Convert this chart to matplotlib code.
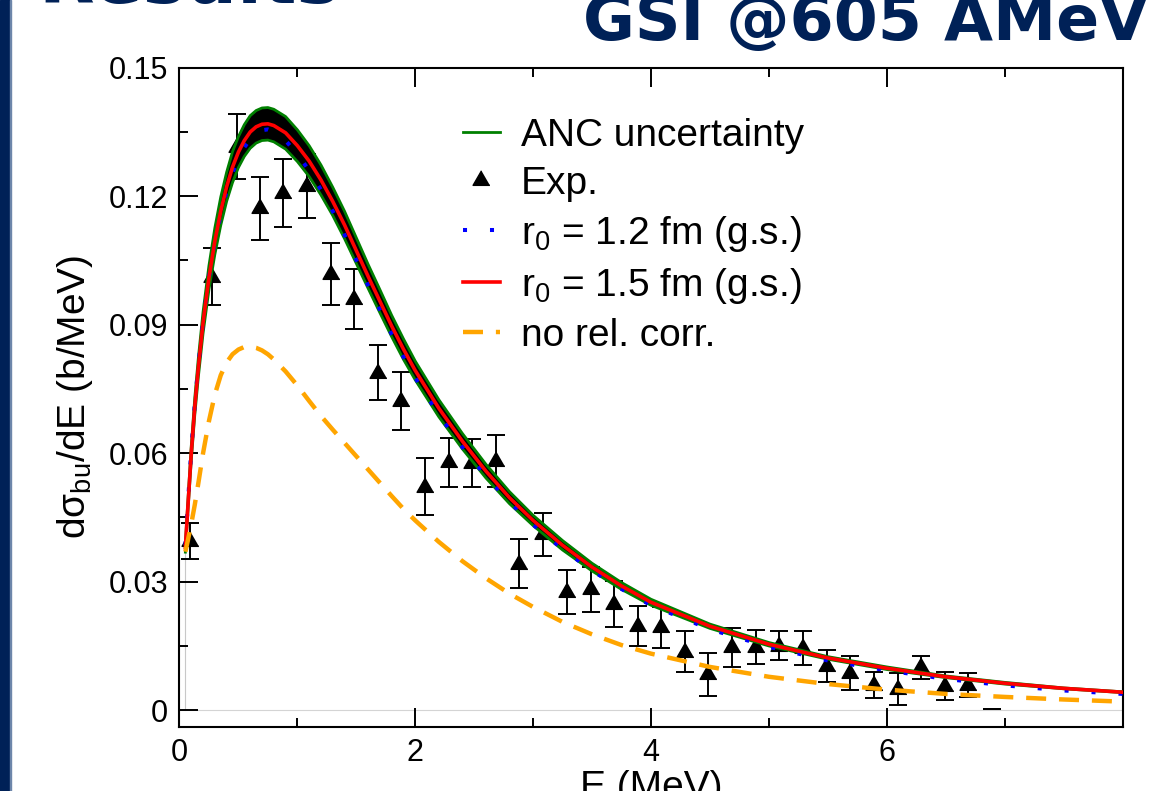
import matplotlib
matplotlib.use("Agg")
import matplotlib.pyplot as plt
from matplotlib.lines import Line2D
from matplotlib.patches import Rectangle

plt.rcParams['font.family'] = ['Liberation Sans', 'DejaVu Sans']
plt.rcParams['mathtext.fontset'] = 'custom'
plt.rcParams['mathtext.rm'] = 'Liberation Sans'
plt.rcParams['mathtext.it'] = 'Liberation Sans:italic'
plt.rcParams['mathtext.bf'] = 'Liberation Sans:bold'

# ---- experimental breakup spectrum ----
exp_e = [0.09, 0.28, 0.486, 0.684, 0.882, 1.08, 1.287, 1.483, 1.684, 1.882,
         2.086, 2.284, 2.483, 2.689, 2.884, 3.086, 3.284, 3.488, 3.686, 3.89,
         4.088, 4.29, 4.484, 4.69, 4.89, 5.09, 5.29, 5.493, 5.69, 5.895,
         6.093, 6.29, 6.495, 6.693]
exp_y = [0.0394, 0.1012, 0.1316, 0.1172, 0.1207, 0.1224, 0.1018, 0.0959, 0.0788, 0.0722,
         0.0522, 0.0579, 0.0577, 0.0582, 0.0342, 0.0411, 0.0276, 0.0282, 0.0248, 0.0197,
         0.0194, 0.0137, 0.0084, 0.0147, 0.0148, 0.0151, 0.0145, 0.0103, 0.0086, 0.0059,
         0.0050, 0.0100, 0.0057, 0.0059]
exp_err = [0.0042, 0.0067, 0.0075, 0.0074, 0.0080, 0.0075, 0.0072, 0.0070, 0.0064, 0.0067,
           0.0066, 0.0057, 0.0057, 0.0060, 0.0057, 0.0050, 0.0052, 0.0053, 0.0053, 0.0046,
           0.0048, 0.0049, 0.0050, 0.0045, 0.0039, 0.0034, 0.0039, 0.0037, 0.0040, 0.0030,
           0.0037, 0.0027, 0.0033, 0.0028]
# last bin: only the cap at zero is shown
stray_e = [6.89]
stray_y = [0.0003]

# low-energy edge of the calculation grid (thin grey segment)
edge_e = [0.047, 0.047]
edge_y = [0.0, 0.045]

# ---- calculations ----
e_theory = [0.05, 0.07, 0.10, 0.13, 0.16, 0.20, 0.25, 0.30, 0.35, 0.40, 0.45, 0.50,
            0.55, 0.60, 0.65, 0.70, 0.75, 0.80, 0.90, 1.00, 1.10, 1.20, 1.30, 1.40,
            1.50, 1.60, 1.70, 1.80, 1.90, 2.00, 2.20, 2.40, 2.60, 2.80, 3.00, 3.25,
            3.50, 3.75, 4.00, 4.50, 5.00, 5.50, 6.00, 6.50, 7.00, 7.50, 8.00]
r15_gs = [0.0380, 0.0470, 0.0600, 0.0710, 0.0800, 0.0905, 0.1010, 0.1095, 0.1165, 0.1222,
          0.1268, 0.1303, 0.1330, 0.1350, 0.1362, 0.1368, 0.1369, 0.1365, 0.1348, 0.1318,
          0.1282, 0.1238, 0.1188, 0.1133, 0.1073, 0.1013, 0.0955, 0.0897, 0.0843, 0.0793,
          0.0705, 0.0628, 0.0558, 0.0496, 0.0443, 0.0385, 0.0334, 0.0290, 0.0252, 0.0196,
          0.0154, 0.0122, 0.0098, 0.0078, 0.0063, 0.0051, 0.0042]
r12_gs = [0.0385, 0.0476, 0.0606, 0.0715, 0.0804, 0.0907, 0.1010, 0.1092, 0.1158, 0.1212,
          0.1255, 0.1288, 0.1314, 0.1333, 0.1346, 0.1354, 0.1356, 0.1351, 0.1330, 0.1298,
          0.1260, 0.1215, 0.1165, 0.1110, 0.1051, 0.0992, 0.0935, 0.0878, 0.0825, 0.0776,
          0.0690, 0.0614, 0.0546, 0.0486, 0.0433, 0.0376, 0.0326, 0.0283, 0.0245, 0.0189,
          0.0148, 0.0116, 0.0093, 0.0073, 0.0058, 0.0046, 0.0038]
anc_upper = [0.0391, 0.0483, 0.0617, 0.0730, 0.0822, 0.0930, 0.1038, 0.1126, 0.1198, 0.1256,
             0.1304, 0.1339, 0.1367, 0.1388, 0.1400, 0.1406, 0.1407, 0.1403, 0.1386, 0.1355,
             0.1318, 0.1273, 0.1221, 0.1165, 0.1103, 0.1041, 0.0982, 0.0922, 0.0867, 0.0815,
             0.0725, 0.0646, 0.0574, 0.0510, 0.0455, 0.0396, 0.0343, 0.0298, 0.0259, 0.0201,
             0.0158, 0.0125, 0.0101, 0.0080, 0.0065, 0.0052, 0.0043]
anc_lower = [0.0369, 0.0457, 0.0583, 0.0690, 0.0778, 0.0880, 0.0982, 0.1064, 0.1132, 0.1188,
             0.1232, 0.1267, 0.1293, 0.1312, 0.1324, 0.1330, 0.1331, 0.1327, 0.1310, 0.1281,
             0.1246, 0.1203, 0.1155, 0.1101, 0.1043, 0.0985, 0.0928, 0.0872, 0.0819, 0.0771,
             0.0685, 0.0610, 0.0542, 0.0482, 0.0431, 0.0374, 0.0325, 0.0282, 0.0245, 0.0191,
             0.0150, 0.0119, 0.0095, 0.0076, 0.0061, 0.0050, 0.0041]
no_rel = [0.0370, 0.0395, 0.0435, 0.0480, 0.0530, 0.0600, 0.0675, 0.0737, 0.0782, 0.0812,
          0.0831, 0.0842, 0.0848, 0.0849, 0.0846, 0.0840, 0.0831, 0.0819, 0.0791, 0.0758,
          0.0722, 0.0687, 0.0655, 0.0624, 0.0593, 0.0562, 0.0531, 0.0500, 0.0470, 0.0443,
          0.0393, 0.0348, 0.0308, 0.0272, 0.0241, 0.0206, 0.0177, 0.0152, 0.0132, 0.0101,
          0.0078, 0.0061, 0.0048, 0.0038, 0.0031, 0.0025, 0.0020]

x_major = [0, 2, 4, 6]
x_minor = [1, 3, 5, 7]
y_major = [0, 0.03, 0.06, 0.09, 0.12, 0.15]
y_major_labels = ['0', '0.03', '0.06', '0.09', '0.12', '0.15']
y_minor = [0.015, 0.045, 0.075, 0.105, 0.135]

navy = '#002157'

fig = plt.figure(figsize=(11.52, 7.91), dpi=100)
ax = fig.add_axes([0.1558, 0.0805, 0.8186, 0.8339])

ax.axhline(0, color='#d4d4d4', lw=0.8, zorder=0)
ax.plot(edge_e, edge_y, color='#c8c8c8', lw=0.8, zorder=0)

tri = [(0, 1), (-0.866, -0.5), (0.866, -0.5)]
ax.errorbar(exp_e, exp_y, yerr=exp_err, fmt='none', ecolor='black',
            elinewidth=1.4, capsize=6.8, capthick=1.4, zorder=2)
ax.plot(exp_e, exp_y, linestyle='none', marker=tri, ms=14, color='black', zorder=2.5)
ax.errorbar(stray_e, stray_y, yerr=[0], fmt='none', ecolor='black',
            elinewidth=1.4, capsize=6.8, capthick=1.4, zorder=2)

ax.fill_between(e_theory, anc_lower, anc_upper, color='black', lw=0, zorder=3)
ax.plot(e_theory, anc_upper, color='#008000', lw=2.0, zorder=3.2)
ax.plot(e_theory, anc_lower, color='#008000', lw=2.0, zorder=3.2)
ax.plot(e_theory, r12_gs, color='#0000ff', lw=2.9, dashes=(1.0, 5.7),
        dash_capstyle='butt', zorder=4)
ax.plot(e_theory, r15_gs, color='#ff0000', lw=2.6, zorder=5)
ax.plot(e_theory, no_rel, color='#ffa500', lw=3.2, dashes=(4.5, 2.9),
        dash_capstyle='butt', zorder=5)

ax.set_xlim(0, 8)
ax.set_ylim(-0.004, 0.15)
ax.set_xticks(x_major)
ax.set_xticks(x_minor, minor=True)
ax.set_yticks(y_major)
ax.set_yticklabels(y_major_labels)
ax.set_yticks(y_minor, minor=True)
ax.tick_params(which='both', direction='in', top=True, right=False,
               width=1.4, labelsize=22, pad=8)
ax.tick_params(which='major', length=13.5)
ax.tick_params(which='minor', length=6.5)
for sp in ax.spines.values():
    sp.set_linewidth(1.5)

handles = [
    Line2D([], [], color='#008000', lw=2.0),
    Line2D([], [], linestyle='none', marker=tri, ms=14, color='black'),
    Line2D([], [], color='#0000ff', lw=2.9, dashes=(1.0, 5.7), dash_capstyle='butt'),
    Line2D([], [], color='#ff0000', lw=2.6),
    Line2D([], [], color='#ffa500', lw=3.2, dashes=(4.5, 2.9), dash_capstyle='butt'),
]
labels = ['ANC uncertainty', 'Exp.', 'r$_{\\mathregular{0}}$ = 1.2 fm (g.s.)',
          'r$_{\\mathregular{0}}$ = 1.5 fm (g.s.)', 'no rel. corr.']
ax.legend(handles, labels, loc='upper left', bbox_to_anchor=(0.3006, 0.924),
          frameon=False, fontsize=28, handlelength=0.95, handletextpad=0.54,
          labelspacing=0.31, borderpad=0, borderaxespad=0)

fig.text(75 / 1152, 1 - 397 / 791, 'dσ$_{\\mathregular{bu}}$/dE (b/MeV)',
         rotation=90, ha='center', va='center', fontsize=28)
fig.text(651 / 1152, 1 - 798 / 791, 'E (MeV)', ha='center', va='baseline', fontsize=28)

fig.text(1148 / 1152, 1 - 40 / 791, 'GSI @605 AMeV', ha='right', va='baseline',
         fontsize=45.6, fontweight='bold', family='DejaVu Sans', color=navy)
fig.text(38 / 1152, 1 - 3 / 791, 'Results', ha='left', va='baseline',
         fontsize=52, fontweight='bold', family='DejaVu Sans', color=navy)

fig.patches.append(Rectangle((0, 0), 10 / 1152, 1, transform=fig.transFigure,
                             color=navy, zorder=10))
fig.patches.append(Rectangle((10 / 1152, 0), 1.2 / 1152, 1, transform=fig.transFigure,
                             color='#6d86aa', zorder=10))

fig.savefig('out.png', dpi=100)
